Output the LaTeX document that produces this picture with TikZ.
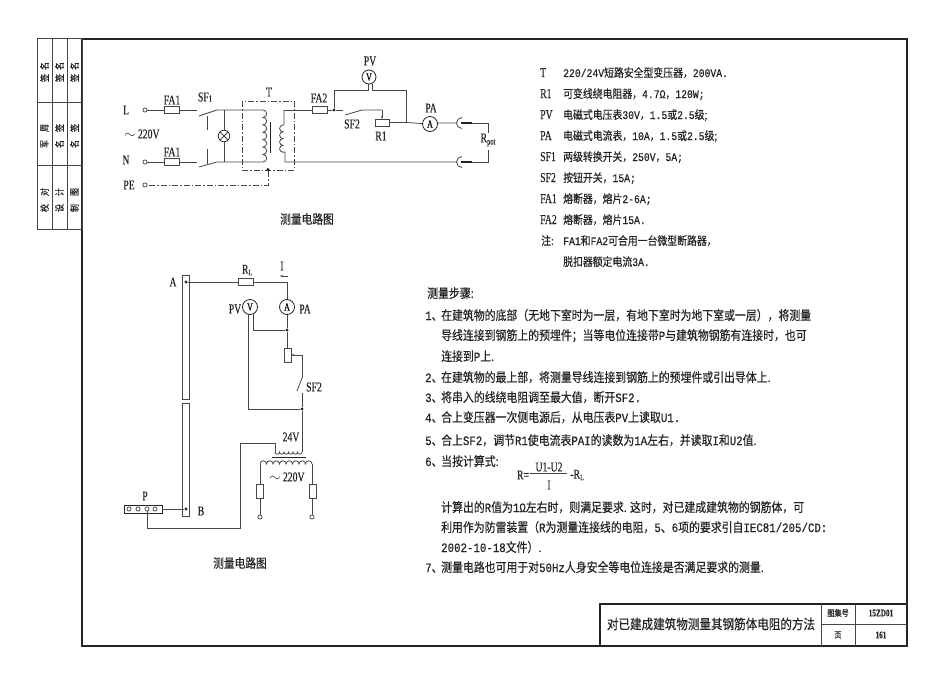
\documentclass[tikz,border=0pt]{standalone}
\usepackage{fontspec}
\setmainfont[FakeStretch=0.85,FakeBold=0.35]{Noto Sans CJK SC}
\newfontfamily\lat[FakeStretch=0.72,FakeBold=0.3]{Liberation Serif}
\newfontfamily\mon[FakeStretch=0.84,FakeBold=0.5]{Liberation Mono}
\newcommand\la[1]{{\mon #1}}
\usetikzlibrary{arrows.meta,calc}
\definecolor{ink}{gray}{0.14}
\tikzset{
 wire/.style={draw=ink!85,line width=0.8pt},
 thick frame/.style={draw=ink,line width=1.8pt},
 thinbox/.style={draw=ink!85,line width=0.7pt,fill=white},
 dd/.style={draw=ink!85,line width=0.7pt,dash pattern=on 6pt off 2pt on 1.5pt off 2pt},
 dot/.style={circle,fill=ink,inner sep=0pt,minimum size=3.4pt},
 term/.style={circle,draw=ink,line width=0.6pt,fill=white,inner sep=0pt,minimum size=4.2pt},
 meter/.style={circle,draw=ink,line width=0.8pt,fill=white,inner sep=0pt,minimum size=15pt,font=\lat\fontsize{11}{11}\selectfont},
 lb/.style={inner sep=0pt,text=ink,font=\lat\fontsize{13.5}{13}\selectfont},
 body/.style={inner sep=0pt,anchor=base west,text=ink,font=\fontsize{12.8}{13}\selectfont},
 leg/.style={inner sep=0pt,anchor=base west,text=ink,font=\fontsize{11.6}{13}\selectfont},
 captxt/.style={inner sep=0pt,text=ink,font=\fontsize{12.6}{13}\selectfont},
 side/.style={inner sep=0pt,text=ink,rotate=90,font=\fontsize{9.5}{10}\selectfont},
}
\newcommand\lv[1]{{\lat\fontsize{13.5}{13}\selectfont #1}}
\begin{document}
\begin{tikzpicture}[x=1pt,y=-1pt]
\useasboundingbox (0,0) rectangle (950,685);
% frame
\draw[thick frame] (82,39) rectangle (907,646);
\draw[wire] (37,38) rectangle (82,229);
\draw[wire] (52,38) -- (52,229) (67,38) -- (67,229) (37,102) -- (82,102) (37,165) -- (82,165);
% title block
\draw[line width=1.4pt,draw=ink] (600,604) rectangle (907,646);
\draw[wire] (821,604) -- (821,646) (855,604) -- (855,646) (821,624) -- (907,624);
\node[captxt,font=\fontsize{13.6}{14}\selectfont] (ttl) at (711,624) {对已建成建筑物测量其钢筋体电阻的方法};
\node[captxt,font=\fontsize{8.5}{9}\selectfont] (tj) at (838,613) {图集号};
\node[captxt,font=\fontsize{8.5}{9}\selectfont] (ty) at (838,635) {页};
\node[lb,font=\lat\bfseries\fontsize{10}{10}\selectfont] (tn) at (881,613) {15ZD01};
\node[lb,font=\lat\bfseries\fontsize{10}{10}\selectfont] (tp) at (881,635) {161};
% side text
\foreach \xx/\aa/\bb in {44.5/校/对,59.5/设/计,74.5/制/图}{
 \node[side] at (\xx,208) {\aa};
 \node[side] at (\xx,192) {\bb};
}
\foreach \xx/\aa/\bb in {44.5/周/军,59.5/签/名,74.5/签/名}{
 \node[side] at (\xx,144) {\bb};
 \node[side] at (\xx,128) {\aa};
}
\foreach \xx/\aa/\bb in {44.5/签/名,59.5/签/名,74.5/签/名}{
 \node[side] at (\xx,78) {\aa};
 \node[side] at (\xx,66) {\bb};
}

% ===== circuit 1
\node[lb] (L) at (126,110) {L};
\node[lb] (N) at (126,160) {N};
\node[lb] (PE) at (129,185) {PE};
\node[lb] (v220) at (142,134) {$\sim$\,220V};
\node[term] (tL) at (145,110) {};
\node[term] (tN) at (145,162) {};
\node[term] (tP) at (145,185) {};
\coordinate (aL) at (197,110);
\coordinate (aN) at (197,162);
\draw[wire] (tL) -- (aL);
\draw[wire] (tN) -- (aN);
\node[thinbox,minimum width=15pt,minimum height=7pt,inner sep=0pt] (f1) at (171.5,110) {};
\node[thinbox,minimum width=15pt,minimum height=7pt,inner sep=0pt] (f2) at (171.5,162) {};
\node[lb] at (172,100) {FA1};
\node[lb] at (172,152) {FA1};
\node[lb] at (205,97) {SF{\fontsize{9}{9}\selectfont 1}};
\draw[wire] (199,116) -- (217,110) -- (263,110);
\draw[wire] (199,167) -- (217,162) -- (263,162);
\draw[wire] (207,116) -- (207,130) (207,149) -- (207,164);
% lamp
\node[circle,draw=ink,line width=0.7pt,inner sep=0pt,minimum size=11.5pt] (lamp) at (224,136) {};
\draw[wire] (224,110) -- (lamp) -- (224,162);
\draw[wire] (lamp.north west) -- (lamp.south east) (lamp.north east) -- (lamp.south west);
% transformer
\draw[dd] (242,101) rectangle (294,170);
\draw[wire] (263,110) \foreach \i in {1,...,7}{ arc[start angle=90,end angle=-90,radius=3.71pt] };
\draw[draw=ink,line width=0.9pt] (270,122) -- (270,153);
\draw[wire] (284,110) -- (284,125) -- (283,125) \foreach \i in {1,...,4}{ arc[start angle=90,end angle=270,radius=3.4pt] } -- (285,152) -- (285,162) -- (457,162);
\draw[wire] (284,110) -- (312,110);
\node[thinbox,minimum width=15pt,minimum height=7pt,inner sep=0pt] (f3) at (319.5,110) {};
\node[lb] at (319,98) {FA2};
\node[lb] at (269,92) {T};
\node[dot] (d1) at (334,110) {};
\node[dot] (d2) at (268,169.5) {};
\draw[wire] (f3) -- (d1) -- (343,110);
\draw[dd] (d2) -- (268,185) -- (tP);
\draw[wire] (345,115) -- (362,110) -- (382,110);
\draw[wire,-{Stealth[length=3pt,width=2.4pt]}] (382,110) -- (382,119);
\node[thinbox,minimum width=14pt,minimum height=7pt,inner sep=0pt] (R1) at (382,122.5) {};
\node[lb] at (352,124) {SF2};
\node[lb] at (381,136) {R1};
\node[meter] (PA1) at (430,124) {A};
\node[meter,minimum size=14pt] (PV1) at (369,77) {V};
\node[lb] at (431,108) {PA};
\node[lb] at (370,61) {PV};
\draw[wire] (R1.east) -- (406,122.5) -- (PA1);
\draw[wire] (d1) -- (334,90) -- (368,90) -- (368,83.5);
\draw[wire] (406,122.5) -- (406,90) -- (372,90) -- (372,83.5);
% sockets
\draw[wire] (PA1) -- (437,123) -- (457,123);
\draw[wire] (462,117.5) arc[start angle=90,end angle=270,radius=5.5pt];
\draw[wire] (462,156.5) arc[start angle=90,end angle=270,radius=5.5pt];
\draw[draw=ink,line width=2.4pt] (461,123) -- (472,123) (461,162) -- (472,162);
\draw[wire] (472,123) -- (488,123) -- (488,133) (488,150) -- (488,162) -- (472,162);
\node[lb] at (488,140) {R\raisebox{-2pt}{\fontsize{9}{9}\selectfont pot}};
\node[captxt] (c1) at (307,219) {测量电路图};

% ===== circuit 2
\node[thinbox,minimum width=7pt,minimum height=124pt,inner sep=0pt] (barU) at (185.5,337) {};
\node[thinbox,minimum width=7pt,minimum height=113pt,inner sep=0pt] (barD) at (185.5,459.5) {};
\node[dot] (A) at (186,282) {};
\node[dot] (B) at (186,509) {};
\node[lb] at (173,282) {A};
\node[lb] at (201,511) {B};
\node[thinbox,minimum width=15pt,minimum height=7pt,inner sep=0pt] (RL) at (245.5,282) {};
\node[lb] at (247,270) {R\raisebox{-1.5pt}{\fontsize{8}{8}\selectfont L}};
\node[lb] at (282,266) {I};
\coordinate (ar1) at (288,276);
\coordinate (ar2) at (280,276);
\draw[wire,-{Stealth[length=3pt,width=2.4pt]}] (ar1) -- (ar2);
\node[meter] (PA2) at (287,307) {A};
\node[meter] (PV2) at (250,307) {V};
\node[lb] at (305,309) {PA};
\node[lb] at (235,309) {PV};
\draw[wire] (A) -- (RL) -- (287,282) -- (PA2);
\node[dot] (d3) at (287,330) {};
\node[thinbox,minimum width=7pt,minimum height=14pt,inner sep=0pt] (RH) at (287.5,355) {};
\draw[wire] (PA2) -- (d3) -- (RH.north -| d3);
\draw[wire] (253,314.3) -- (253,330) -- (d3);
\node[dot] (d4) at (302,409) {};
\draw[wire] (248,314.3) -- (248,409) -- (d4);
\draw[wire] (302,378) -- (302,355) -- (296,355);
\draw[wire,-{Stealth[length=3pt,width=2.4pt]}] (297,355) -- (RH.east);
\draw[wire] (302,378) -- (297,391);
\draw[wire] (302,393) -- (d4) -- (302,452);
\node[lb] at (314,387) {SF2};
\node[lb] at (291,437) {24V};
\draw[wire] (275,452) \foreach \i in {1,...,6}{ arc[start angle=180,end angle=360,radius=2.25pt] };
\draw[wire] (275,452) -- (275,443) -- (240,443) -- (240,528) -- (147,528);
\draw[draw=ink,line width=0.8pt] (272,457) -- (306,457);
\draw[wire] (260,464) \foreach \i in {1,...,8}{ arc[start angle=180,end angle=0,radius=3.25pt] };
\node[lb] at (287,477) {$\sim$\,220V};
\node[term] (t1) at (260,517) {};
\node[term] (t2) at (312,517) {};
\draw[wire] (260,464) -- (t1);
\draw[wire] (312,464) -- (t2);
\node[thinbox,minimum width=7pt,minimum height=14pt,inner sep=0pt] at (260,491) {};
\node[thinbox,minimum width=7pt,minimum height=14pt,inner sep=0pt] at (312.5,491) {};
\node[draw=ink,line width=0.6pt,fill=white,minimum width=38pt,minimum height=8pt,inner sep=0pt] (P) at (143,509) {};
\node[term] (p1) at (129,509) {};
\node[term] (p2) at (138,509) {};
\node[term] (p3) at (147,509) {};
\node[term] (p4) at (155,509) {};
\draw[wire] (P.east) -- (B);
\draw[wire] (147,528) -- (p3);
\node[lb] at (145,496) {P};
\node[captxt] (c2) at (240,563) {测量电路图};

% ===== legend
\node[leg] at (540,77) {\lv{T}};
\node[leg] at (563,77) {\la{220/24V}短路安全型变压器，\la{200VA.}};
\node[leg] at (540,98) {\lv{R1}};
\node[leg] at (563,98) {可变线绕电阻器，\la{4.7Ω}，\la{120W;}};
\node[leg] at (540,119) {\lv{PV}};
\node[leg] at (563,119) {电磁式电压表\la{30V}，\la{1.5}或\la{2.5}级;};
\node[leg] at (540,140) {\lv{PA}};
\node[leg] at (563,140) {电磁式电流表，\la{10A}，\la{1.5}或\la{2.5}级;};
\node[leg] at (540,161) {\lv{SF1}};
\node[leg] at (563,161) {两级转换开关，\la{250V}，\la{5A;}};
\node[leg] at (540,182) {\lv{SF2}};
\node[leg] at (563,182) {按钮开关，\la{15A;}};
\node[leg] at (540,203) {\lv{FA1}};
\node[leg] at (563,203) {熔断器，熔片\la{2-6A;}};
\node[leg] at (540,224) {\lv{FA2}};
\node[leg] at (563,224) {熔断器，熔片\la{15A.}};
\node[leg] at (541,245) {注:};
\node[leg] at (563,245) {\la{FA1}和\la{FA2}可合用一台微型断路器，};
\node[leg] at (563,266) {脱扣器额定电流\la{3A.}};

% ===== steps
\node[body] at (427,298) {测量步骤:};
\node[body] at (425,320) {\la{1}、};
\node[body] at (441,320) {在建筑物的底部（无地下室时为一层，有地下室时为地下室或一层），将测量};
\node[body] at (441,340) {导线连接到钢筋上的预埋件；当等电位连接带\la{P}与建筑物钢筋有连接时，也可};
\node[body] at (441,361) {连接到\la{P}上.};
\node[body] at (425,382) {\la{2}、};
\node[body] at (441,382) {在建筑物的最上部，将测量导线连接到钢筋上的预埋件或引出导体上.};
\node[body] at (425,402) {\la{3}、};
\node[body] at (441,402) {将串入的线绕电阻调至最大值，断开\la{SF2.}};
\node[body] at (425,422) {\la{4}、};
\node[body] at (441,422) {合上变压器一次侧电源后，从电压表\la{PV}上读取\la{U1.}};
\node[body] at (425,445) {\la{5}、};
\node[body] at (441,445) {合上\la{SF2}，调节\la{R1}使电流表\la{PAI}的读数为\la{1A}左右，并读取\la{I}和\la{U2}值.};
\node[body] at (425,466) {\la{6}、};
\node[body] at (441,466) {当按计算式:};
\node[lb] (rr) at (523,475) {R=};
\node[lb] (uu) at (549,467) {U1-U2};
\node[lb] (ii) at (549,485) {I};
\coordinate (bar1) at (530,473.5);
\coordinate (bar2) at (567,473.5);
\draw[wire] (bar1) -- (bar2);
\node[lb] (rl) at (577,475) {-R\raisebox{-1.5pt}{\fontsize{8}{8}\selectfont L}};
\node[body] at (441,512) {计算出的\la{R}值为\la{1Ω}左右时，则满足要求. 这时，对已建成建筑物的钢筋体，可};
\node[body] at (441,532) {利用作为防雷装置（\la{R}为测量连接线的电阻，\la{5}、\la{6}项的要求引自\la{IEC81/205/CD:}};
\node[body] at (441,552) {\la{2002-10-18}文件）.};
\node[body] at (425,572) {\la{7}、};
\node[body] at (441,572) {测量电路也可用于对\la{50Hz}人身安全等电位连接是否满足要求的测量.};
\end{tikzpicture}
\end{document}
